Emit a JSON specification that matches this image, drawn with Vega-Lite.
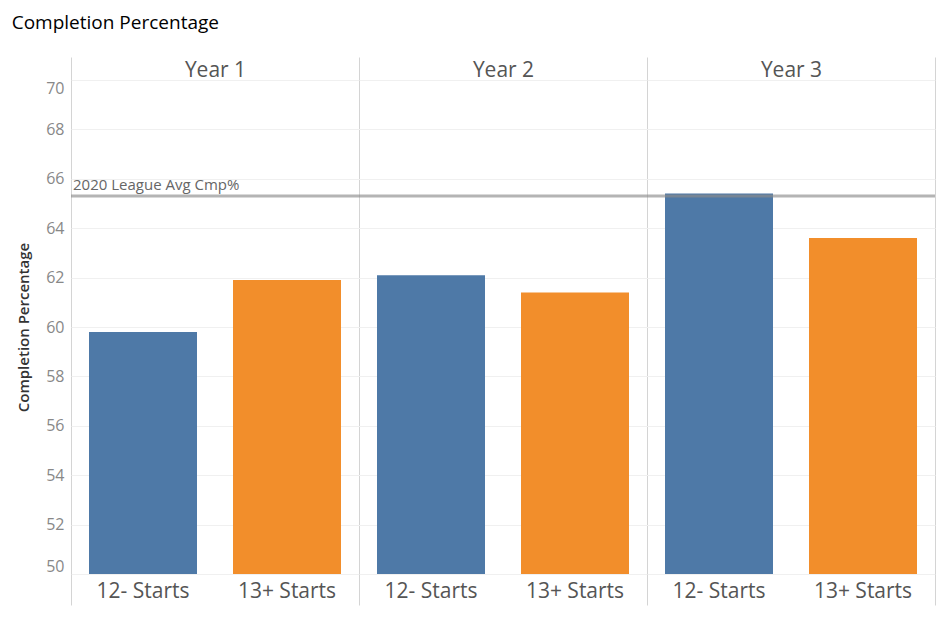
{
  "$schema": "https://vega.github.io/schema/vega-lite/v6.json",
  "width": 864,
  "height": 494,
  "autosize": {"type": "none"},
  "padding": {"left": 71, "top": 80, "right": 12, "bottom": 44},
  "title": {
    "text": "Completion Percentage",
    "anchor": "start",
    "frame": "bounds",
    "font": "Open Sans",
    "fontSize": 19,
    "fontWeight": "normal",
    "color": "#000000",
    "offset": 24,
    "dx": -5
  },
  "datasets": {
    "bars": [
      {"key": "Year 1|12- Starts", "year": "Year 1", "starts": "12- Starts", "cmp": 59.8},
      {"key": "Year 1|13+ Starts", "year": "Year 1", "starts": "13+ Starts", "cmp": 61.9},
      {"key": "Year 2|12- Starts", "year": "Year 2", "starts": "12- Starts", "cmp": 62.1},
      {"key": "Year 2|13+ Starts", "year": "Year 2", "starts": "13+ Starts", "cmp": 61.4},
      {"key": "Year 3|12- Starts", "year": "Year 3", "starts": "12- Starts", "cmp": 65.4},
      {"key": "Year 3|13+ Starts", "year": "Year 3", "starts": "13+ Starts", "cmp": 63.6}
    ],
    "ref": [
      {"year": "Year 1", "avg": 65.3, "label": "2020 League Avg Cmp%"}
    ]
  },
  "layer": [
    {
      "data": {"name": "bars"},
      "mark": {"type": "bar", "clip": true},
      "encoding": {
        "x": {
          "field": "key",
          "type": "nominal",
          "sort": null,
          "scale": {"paddingInner": 0.25, "paddingOuter": 0.125},
          "axis": {
            "title": null,
            "orient": "bottom",
            "labelExpr": "split(datum.label, '|')[1]",
            "labelAngle": 0,
            "labelFont": "Open Sans",
            "labelFontSize": 21,
            "labelColor": "#555555",
            "labelPadding": 6,
            "ticks": false,
            "domain": false,
            "grid": false
          }
        },
        "y": {
          "field": "cmp",
          "type": "quantitative",
          "scale": {"domain": [50, 70], "nice": false, "zero": false},
          "axis": {
            "title": "Completion Percentage",
            "titleFont": "Open Sans",
            "titleFontSize": 15,
            "titleFontWeight": 600,
            "titleColor": "#333333",
            "titlePadding": 14,
            "values": [50, 52, 54, 56, 58, 60, 62, 64, 66, 68, 70],
            "labelFont": "Open Sans",
            "labelFontSize": 16,
            "labelColor": "#888888",
            "labelFlush": true,
            "labelPadding": 7,
            "ticks": false,
            "domain": false,
            "grid": true,
            "gridColor": "#f0f0f0",
            "gridWidth": 1
          }
        },
        "color": {
          "field": "starts",
          "type": "nominal",
          "scale": {"domain": ["12- Starts", "13+ Starts"], "range": ["#4e79a7", "#f28e2b"]},
          "legend": null
        }
      }
    },
    {
      "data": {"name": "ref"},
      "mark": {"type": "rule", "color": "#8c8c8c", "opacity": 0.65, "strokeWidth": 3},
      "encoding": {
        "y": {"field": "avg", "type": "quantitative"}
      }
    },
    {
      "data": {"name": "ref"},
      "mark": {"type": "text", "align": "left", "baseline": "bottom", "dx": 2, "dy": -3, "font": "Open Sans", "fontSize": 15, "color": "#666666"},
      "encoding": {
        "x": {
          "field": "year",
          "type": "nominal",
          "bandPosition": 0,
          "scale": {"domain": ["Year 1", "Year 2", "Year 3"], "paddingInner": 0, "paddingOuter": 0},
          "axis": {
            "title": null,
            "orient": "top",
            "labelAngle": 0,
            "labelFont": "Open Sans",
            "labelFontSize": 21,
            "labelColor": "#555555",
            "tickBand": "extent",
            "ticks": true,
            "tickSize": 23,
            "tickColor": "#d4d4d4",
            "labelPadding": -23,
            "domain": false,
            "grid": true,
            "gridColor": "#d4d4d4"
          }
        },
        "y": {"field": "avg", "type": "quantitative"},
        "text": {"field": "label"}
      }
    },
    {
      "data": {"name": "bars"},
      "mark": {"type": "tick", "opacity": 0},
      "encoding": {
        "x": {
          "field": "year",
          "type": "nominal",
          "scale": {"domain": ["Year 1", "Year 2", "Year 3"], "paddingInner": 0, "paddingOuter": 0},
          "axis": {
            "title": null,
            "orient": "bottom",
            "labels": false,
            "tickBand": "extent",
            "ticks": true,
            "tickSize": 31,
            "tickColor": "#d4d4d4",
            "domain": false,
            "grid": false
          }
        },
        "y": {"field": "cmp", "type": "quantitative"}
      }
    }
  ],
  "resolve": {"scale": {"x": "independent"}, "axis": {"x": "independent"}},
  "config": {
    "view": {"stroke": "#d4d4d4", "strokeWidth": 1},
    "font": "Open Sans"
  }
}
